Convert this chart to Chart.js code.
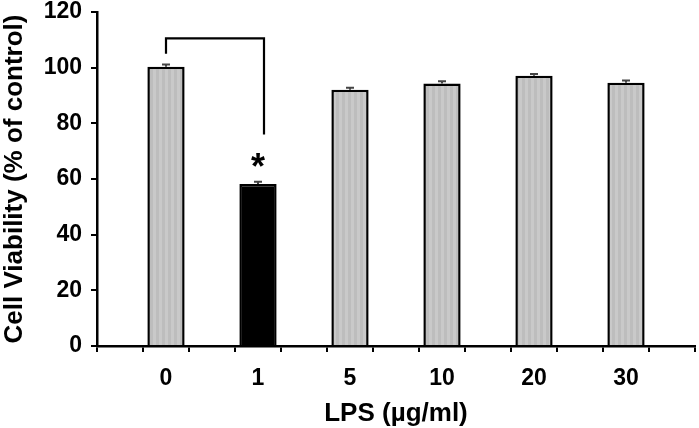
<!DOCTYPE html>
<html lang="en">
<head>
<meta charset="UTF-8">
<title>Cell Viability</title>
<script src="https://cdn.jsdelivr.net/npm/chart.js"></script>
<style>
  html, body { margin: 0; padding: 0; background: #fff; }
</style>
</head>
<body>
<canvas id="grafico" width="699" height="428"></canvas>
<script>
  // dados
  var categorias = ["0", "1", "5", "10", "20", "30"];
  var viabilidade = [100.3, 58.2, 92.1, 94.3, 97.1, 94.6];
  var erros = [0.8, 0.8, 0.7, 0.8, 0.6, 0.8];
  var yTicks = [0, 20, 40, 60, 80, 100, 120];
  var destaque = [false, true, false, false, false, false];
  // colchete de significancia entre "0" e "1" (valores em %)
  var colchete = { de: 0, ate: 1, topo: 110.5, fimEsq: 105, fimDir: 76 };
  var fonte = "'Liberation Sans', Arial, sans-serif";

  // textura cinza com listras verticais
  function criarTextura() {
    var c = document.createElement("canvas");
    c.width = 6; c.height = 4;
    var g = c.getContext("2d");
    g.fillStyle = "#bdbdbd"; g.fillRect(0, 0, 3, 4);
    g.fillStyle = "#c9c9c9"; g.fillRect(3, 0, 3, 4);
    return g.createPattern(c, "repeat");
  }
  var cinza = criarTextura();

  // 13 posicoes no eixo: vazio entre as barras, como no original
  var rotulos = [""];
  var valores = [null];
  var cores = ["#fff"];
  categorias.forEach(function (c, i) {
    rotulos.push(c, "");
    valores.push(viabilidade[i], null);
    cores.push(destaque[i] ? "#000" : cinza, "#fff");
  });
  function posicao(i) { return 1 + i * 2; }

  var extras = {
    id: "extras",
    afterDatasetsDraw: function (chart) {
      var ctx = chart.ctx;
      var x = chart.scales.x, y = chart.scales.y;
      ctx.save();
      // barras de erro
      ctx.strokeStyle = "#444";
      ctx.lineWidth = 2;
      viabilidade.forEach(function (v, i) {
        var px = x.getPixelForValue(posicao(i));
        var a = y.getPixelForValue(v + erros[i]);
        var b = y.getPixelForValue(v);
        ctx.beginPath();
        ctx.moveTo(px, b); ctx.lineTo(px, a);
        ctx.moveTo(px - 4, a); ctx.lineTo(px + 4, a);
        ctx.stroke();
      });
      // colchete
      var x1 = x.getPixelForValue(posicao(colchete.de));
      var x2 = x.getPixelForValue(posicao(colchete.ate)) + 6;
      ctx.strokeStyle = "#000";
      ctx.lineWidth = 2.2;
      ctx.beginPath();
      ctx.moveTo(x1, y.getPixelForValue(colchete.fimEsq));
      ctx.lineTo(x1, y.getPixelForValue(colchete.topo));
      ctx.lineTo(x2, y.getPixelForValue(colchete.topo));
      ctx.lineTo(x2, y.getPixelForValue(colchete.fimDir));
      ctx.stroke();
      // asterisco
      destaque.forEach(function (d, i) {
        if (!d) return;
        var px = x.getPixelForValue(posicao(i));
        var topo = y.getPixelForValue(viabilidade[i] + erros[i]);
        ctx.fillStyle = "#000";
        ctx.font = "bold 36px " + fonte;
        ctx.textAlign = "center";
        ctx.textBaseline = "top";
        ctx.fillText("*", px, topo - 31);
      });
      ctx.restore();
    }
  };

  new Chart(document.getElementById("grafico"), {
    type: "bar",
    data: {
      labels: rotulos,
      datasets: [{
        data: valores,
        backgroundColor: cores,
        borderColor: "#000",
        borderWidth: 2.5,
        barPercentage: 0.9,
        categoryPercentage: 0.9,
        skipNull: true
      }]
    },
    options: {
      responsive: false,
      animation: false,
      layout: { padding: { top: 0, right: 4, left: 0, bottom: 0 } },
      plugins: { legend: { display: false }, tooltip: { enabled: false } },
      scales: {
        x: {
          afterFit: function (s) { s.height = 82; },
          grid: { offset: true, drawOnChartArea: false, tickLength: 6, color: "#000", lineWidth: 2 },
          border: { color: "#000", width: 2.5 },
          ticks: {
            color: "#000", autoSkip: false, maxRotation: 0, padding: 15,
            font: { family: fonte, size: 23, weight: "bold", lineHeight: 1 }
          },
          title: {
            display: true, text: "LPS (µg/ml)", color: "#000",
            font: { family: fonte, size: 26, weight: "bold", lineHeight: 1 }, padding: { top: 0, bottom: 1 }
          }
        },
        y: {
          min: 0, max: 120,
          afterBuildTicks: function (s) { s.ticks = yTicks.map(function (v) { return { value: v }; }); },
          afterFit: function (s) { s.width = 97; s.paddingTop = 12; },
          grid: { drawOnChartArea: false, tickLength: 6, color: "#000", lineWidth: 2 },
          border: { color: "#000", width: 2.5 },
          ticks: {
            color: "#000", padding: 9,
            font: { family: fonte, size: 23, weight: "bold", lineHeight: 1 }
          },
          title: {
            display: true, text: "Cell Viability (% of control)", color: "#000",
            font: { family: fonte, size: 26, weight: "bold", lineHeight: 1 }, padding: { top: 2, bottom: 4 }
          }
        }
      }
    },
    plugins: [extras]
  });
</script>
</body>
</html>
